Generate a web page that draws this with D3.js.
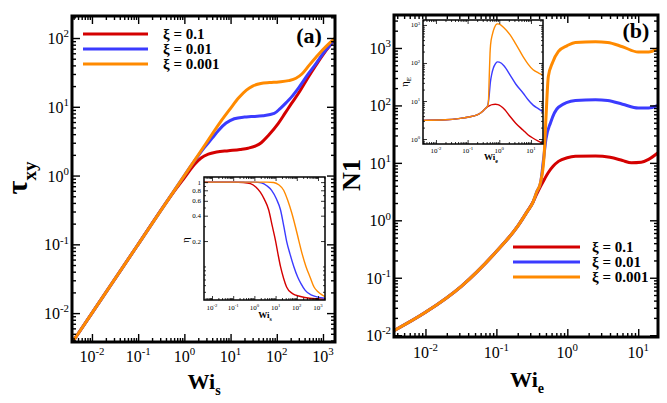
<!DOCTYPE html>
<html><head><meta charset="utf-8">
<script src="https://cdn.jsdelivr.net/npm/d3@7"></script>
<style>
body{margin:0;background:#fff}
svg{display:block}
text{font-family:"Liberation Serif","Times New Roman",serif;fill:#000}
</style>
</head><body>
<svg id="c" width="667" height="403"></svg>
<script>
// ---------------- DATA ----------------
const xiLabels = ["0.1", "0.01", "0.001"];
const seriesColors = ["#d40000", "#3b3bff", "#ff8a00"];

// Panel (a): shear stress tau_xy vs Wi_s
const tauRed = [[0.0037,0.0037],[0.01,0.01],[0.1,0.1],[0.4,0.4],[0.67,0.65],[1,0.93],[1.65,1.45],[2.3,1.8],[3.3,2.05],[5,2.2],[9,2.3],[16,2.4],[24,2.5],[35,2.7],[46,3.0],[65,3.8],[107,5.7],[150,8],[205,11],[300,16],[480,27],[700,40],[1050,60],[1400,77],[1820,95]];
const tauBlue = [[0.0037,0.0037],[0.01,0.01],[0.1,0.1],[1,1],[1.65,1.63],[2.7,2.55],[4,3.5],[5.4,4.5],[8,5.8],[12,6.7],[20,7.1],[28,7.2],[50,7.4],[88,8],[120,9.5],[160,11.5],[205,13.7],[300,19],[480,30],[700,42],[1050,62],[1400,78],[1820,97]];
const tauOrange = [[0.0037,0.0037],[0.01,0.01],[0.1,0.1],[1,1],[3,3],[6,6],[10,9.5],[15,13.5],[22,17.5],[30,20],[45,21.8],[70,22.5],[110,23],[180,24],[260,26],[350,30],[500,40],[700,52],[1000,68],[1400,85],[1820,100]];

// Inset (a): shear viscosity eta vs Wi_s
const etaRed = [[0.0042,1],[0.1,1],[0.3,0.99],[0.65,0.96],[1.2,0.87],[1.9,0.76],[3,0.62],[4.7,0.47],[7,0.3],[10,0.2],[13,0.14],[17,0.1],[24,0.072],[33,0.057],[60,0.048],[150,0.044],[400,0.042],[2140,0.041]];
const etaBlue = [[0.0042,1],[1,1],[2.1,0.98],[4,0.9],[6.5,0.8],[11,0.63],[17,0.47],[25,0.29],[33,0.2],[48,0.14],[72,0.1],[110,0.075],[155,0.063],[250,0.052],[470,0.046],[2140,0.042]];
const etaOrange = [[0.0042,1],[4,1],[8,0.99],[14,0.93],[24,0.8],[38,0.6],[58,0.43],[85,0.3],[126,0.2],[180,0.14],[270,0.1],[420,0.075],[650,0.057],[1000,0.05],[1550,0.046],[2140,0.044]];

// Panel (b): first normal stress difference N1 vs Wi_e
const n1Red = [[0.0036,0.012],[0.01,0.025],[0.032,0.071],[0.093,0.26],[0.2,0.79],[0.27,1.4],[0.33,2.1],[0.37,2.85],[0.42,3.9],[0.48,5.3],[0.54,6.8],[0.63,8.7],[0.75,10.6],[1,12.3],[1.3,13],[2.5,13.2],[4,12.5],[6,11],[8,10],[11,10.2],[14,11.5],[19,15]];
const n1Blue = [[0.0036,0.012],[0.01,0.025],[0.032,0.071],[0.093,0.26],[0.2,0.79],[0.27,1.4],[0.33,2.1],[0.37,3.1],[0.42,4.5],[0.46,11],[0.5,26],[0.58,50],[0.75,93],[1.3,122],[2.5,126],[3.7,122],[6,105],[10,90],[14,90],[19,100]];
const n1Orange = [[0.0036,0.012],[0.01,0.025],[0.032,0.071],[0.093,0.26],[0.2,0.79],[0.27,1.4],[0.33,2.1],[0.37,3.1],[0.42,4.6],[0.47,13],[0.5,60],[0.54,320],[0.62,560],[0.75,870],[1,1100],[1.3,1250],[2.5,1280],[3.7,1250],[6,1050],[10,850],[14,850],[19,990]];

// Inset (b): extensional viscosity eta_E vs Wi_e
const etaERed = [[0.0039,3.1],[0.02,3.2],[0.059,3.5],[0.1,3.75],[0.2,4.3],[0.3,5.4],[0.36,6.3],[0.42,7.0],[0.5,7.6],[0.6,8.0],[0.75,8.2],[0.9,8.0],[1.1,7.4],[1.5,5.9],[2.2,3.9],[3.3,2.6],[5.7,1.7],[8,1.3],[11.7,1.05],[17,0.88],[24,0.77]];
const etaEBlue = [[0.0039,3.1],[0.02,3.2],[0.059,3.5],[0.1,3.75],[0.2,4.3],[0.3,5.4],[0.36,6.3],[0.42,7.2],[0.48,14],[0.52,30],[0.58,52],[0.65,74],[0.75,95],[0.87,107],[1.0,105],[1.4,85],[2.2,48],[3.3,28],[5.7,16],[8,11],[11.7,7.8],[17,6.3],[24,5.2]];
const etaEOrange = [[0.0039,3.1],[0.02,3.2],[0.059,3.5],[0.1,3.75],[0.2,4.3],[0.3,5.4],[0.36,6.3],[0.42,7.2],[0.45,8.5],[0.48,40],[0.51,180],[0.53,300],[0.6,550],[0.7,850],[0.87,1070],[1.0,1050],[1.4,850],[2.2,550],[3.3,320],[5.7,145],[8,95],[11.7,66],[17,55],[24,48]];

// Tick labels (exponents of 10, or plain values)
const aXExp = [-2,-1,0,1,2,3];
const aYExp = [-2,-1,0,1,2];
const bXExp = [-2,-1,0,1];
const bYExp = [-2,-1,0,1,2,3];
const iaXExp = [-2,-1,0,1,2,3];
const iaYVals = [1,0.8,0.6,0.4,0.2];
const ibXExp = [-2,-1,0,1];
const ibYExp = [0,1,2,3];

// ---------------- DRAWING ----------------
const svg = d3.select("#c");
let clipId = 0;

function minorTicks(domain, majors) {
  const out = [];
  const lo = Math.floor(Math.log10(domain[0])), hi = Math.ceil(Math.log10(domain[1]));
  for (let e = lo; e <= hi; e++) for (let m = 1; m <= 9; m++) {
    const v = m * Math.pow(10, e);
    if (v > domain[0] && v < domain[1] && !majors.some(t => Math.abs(t - v) / v < 1e-6)) out.push(v);
  }
  return out;
}

function drawTicks(g, x, y, box, o) {
  const sides = [
    {ax: d3.axisBottom, s: x, t: `translate(0,${box.y1})`, maj: o.xMaj, min: o.xMin},
    {ax: d3.axisTop, s: x, t: `translate(0,${box.y0})`, maj: o.xMaj, min: o.xMin},
    {ax: d3.axisLeft, s: y, t: `translate(${box.x0},0)`, maj: o.yMaj, min: o.yMin},
    {ax: d3.axisRight, s: y, t: `translate(${box.x1},0)`, maj: o.yMaj, min: o.yMin}
  ];
  sides.forEach(sd => {
    [[sd.maj, o.majLen], [sd.min, o.minLen]].forEach(([vals, len]) => {
      const a = g.append("g").attr("transform", sd.t)
        .call(sd.ax(sd.s).tickValues(vals).tickSize(-len).tickFormat(""));
      a.select(".domain").remove();
      a.selectAll("line").attr("stroke", "#000").attr("stroke-width", o.tw);
    });
  });
}

function supText(g, x, y, exp, size, anchor) {
  const t = g.append("text").attr("x", x).attr("y", y).attr("font-size", size).attr("text-anchor", anchor);
  t.append("tspan").text("10");
  t.append("tspan").attr("dy", -0.42 * size).attr("font-size", size * 0.68).text(exp);
  return t;
}

function drawCurves(g, x, y, box, series, width) {
  const id = "clip" + (clipId++);
  g.append("clipPath").attr("id", id).append("rect")
    .attr("x", box.x0).attr("y", box.y0).attr("width", box.x1 - box.x0).attr("height", box.y1 - box.y0);
  const line = d3.line().x(d => x(d[0])).y(d => y(d[1])).curve(d3.curveMonotoneX);
  const cg = g.append("g").attr("clip-path", `url(#${id})`);
  series.forEach((s, i) => {
    cg.append("path").attr("d", line(s)).attr("fill", "none")
      .attr("stroke", seriesColors[i]).attr("stroke-width", width)
      .attr("stroke-linejoin", "round").attr("stroke-linecap", "round");
  });
}

function panel(o) {
  const g = svg.append("g");
  const box = o.box;
  g.append("rect").attr("x", box.x0).attr("y", box.y0).attr("width", box.x1 - box.x0).attr("height", box.y1 - box.y0)
    .attr("fill", "#fff");
  const x = d3.scaleLog().domain(o.xd).range([box.x0, box.x1]);
  const y = d3.scaleLog().domain(o.yd).range([box.y1, box.y0]);
  const xMaj = o.xExp.map(e => Math.pow(10, e));
  const yMaj = o.yMajVals;
  drawCurves(g, x, y, box, o.series, o.lw);
  drawTicks(g, x, y, box, {xMaj, xMin: minorTicks(o.xd, xMaj), yMaj, yMin: o.yMinVals || minorTicks(o.yd, yMaj),
    majLen: o.majLen, minLen: o.minLen, tw: o.tw});
  g.append("rect").attr("x", box.x0).attr("y", box.y0).attr("width", box.x1 - box.x0).attr("height", box.y1 - box.y0)
    .attr("fill", "none").attr("stroke", "#000").attr("stroke-width", o.fw);
  o.xExp.forEach(e => supText(g, x(Math.pow(10, e)), o.xLabY, String(e), o.fs, "middle"));
  return {g, x, y};
}

// Panel (a)
const A = panel({
  box: {x0: 72, y0: 16, x1: 335, y1: 342},
  xd: [0.0037, 1820], yd: [0.0038, 209],
  xExp: aXExp, yMajVals: aYExp.map(e => Math.pow(10, e)),
  series: [tauRed, tauBlue, tauOrange], lw: 3,
  majLen: 8, minLen: 4, tw: 1.4, fw: 3, fs: 16, xLabY: 362
});
aYExp.forEach(e => supText(A.g, 69, A.y(Math.pow(10, e)) + 6, String(e), 16, "end"));

// Panel (b)
const B = panel({
  box: {x0: 394, y0: 15, x1: 658, y1: 337},
  xd: [0.0036, 19], yd: [0.0093, 3750],
  xExp: bXExp, yMajVals: bYExp.map(e => Math.pow(10, e)),
  series: [n1Red, n1Blue, n1Orange], lw: 3,
  majLen: 8, minLen: 4, tw: 1.4, fw: 3, fs: 16, xLabY: 358
});
bYExp.forEach(e => supText(B.g, 391, B.y(Math.pow(10, e)) + 6, String(e), 16, "end"));

// Inset (a)
const IA = panel({
  box: {x0: 204, y0: 177, x1: 325, y1: 300},
  xd: [0.0042, 2140], yd: [0.04, 1.15],
  xExp: iaXExp, yMajVals: iaYVals,
  yMinVals: [0.9, 0.7, 0.5, 0.3, 0.1, 0.09, 0.08, 0.07, 0.06, 0.05],
  series: [etaRed, etaBlue, etaOrange], lw: 1.4,
  majLen: 4, minLen: 2, tw: 0.8, fw: 1.5, fs: 7, xLabY: 310
});
iaYVals.forEach(v => IA.g.append("text").attr("x", 201).attr("y", IA.y(v) + 2.5)
  .attr("font-size", 7).attr("text-anchor", "end").text(String(v)));

// Inset (b)
const IB = panel({
  box: {x0: 423, y0: 20, x1: 543, y1: 144},
  xd: [0.0039, 24], yd: [0.74, 1350],
  xExp: ibXExp, yMajVals: ibYExp.map(e => Math.pow(10, e)),
  series: [etaERed, etaEBlue, etaEOrange], lw: 1.4,
  majLen: 4, minLen: 2, tw: 0.8, fw: 1.5, fs: 7, xLabY: 153
});
ibYExp.forEach(e => supText(IB.g, 420, IB.y(Math.pow(10, e)) + 2.5, String(e), 7, "end"));

// ---------------- AXIS TITLES ----------------
function subTitle(x, y, main, sub, size, subSize, dy, rot) {
  const t = svg.append("text").attr("font-size", size).attr("font-weight", "bold").attr("text-anchor", "middle")
    .attr("transform", `translate(${x},${y})` + (rot ? " rotate(-90)" : ""));
  t.append("tspan").text(main);
  t.append("tspan").attr("dy", dy).attr("font-size", subSize).text(sub);
  return t;
}
subTitle(204, 389, "Wi", "s", 22, 14, 6, false);
subTitle(527, 387, "Wi", "e", 22, 14, 6, false);
subTitle(27, 178, "τ", "xy", 30, 19, 9, true);
svg.append("text").attr("font-size", 26).attr("font-weight", "bold").attr("text-anchor", "middle")
  .attr("transform", "translate(360,175) rotate(-90)").text("N1");
subTitle(265, 318, "Wi", "s", 9, 6, 2.5, false);
subTitle(491, 160, "Wi", "e", 9, 6, 2.5, false);
svg.append("text").attr("font-size", 11).attr("text-anchor", "middle")
  .attr("transform", "translate(189,240) rotate(-90)").text("η");
const te = svg.append("text").attr("font-size", 11).attr("text-anchor", "middle")
  .attr("transform", "translate(408,82) rotate(-90)");
te.append("tspan").text("η");
te.append("tspan").attr("dy", 3).attr("font-size", 7).text("E");

// Panel tags
svg.append("text").attr("x", 309).attr("y", 43).attr("font-size", 22).attr("font-weight", "bold")
  .attr("text-anchor", "middle").text("(a)");
svg.append("text").attr("x", 636).attr("y", 38).attr("font-size", 22).attr("font-weight", "bold")
  .attr("text-anchor", "middle").text("(b)");

// ---------------- LEGENDS ----------------
function legend(x0, x1, tx, ys) {
  xiLabels.forEach((lab, i) => {
    svg.append("line").attr("x1", x0).attr("x2", x1).attr("y1", ys[i]).attr("y2", ys[i])
      .attr("stroke", seriesColors[i]).attr("stroke-width", 3);
  });
  const t = svg.append("text").attr("font-size", 15).attr("font-weight", "bold");
  xiLabels.forEach((lab, i) => {
    t.append("tspan").attr("x", tx).attr("y", ys[i] + 5).text("ξ = " + lab);
  });
}
legend(83, 148, 163, [34, 49, 64]);
legend(513, 580, 592, [247, 262, 277]);
</script>
</body></html>
